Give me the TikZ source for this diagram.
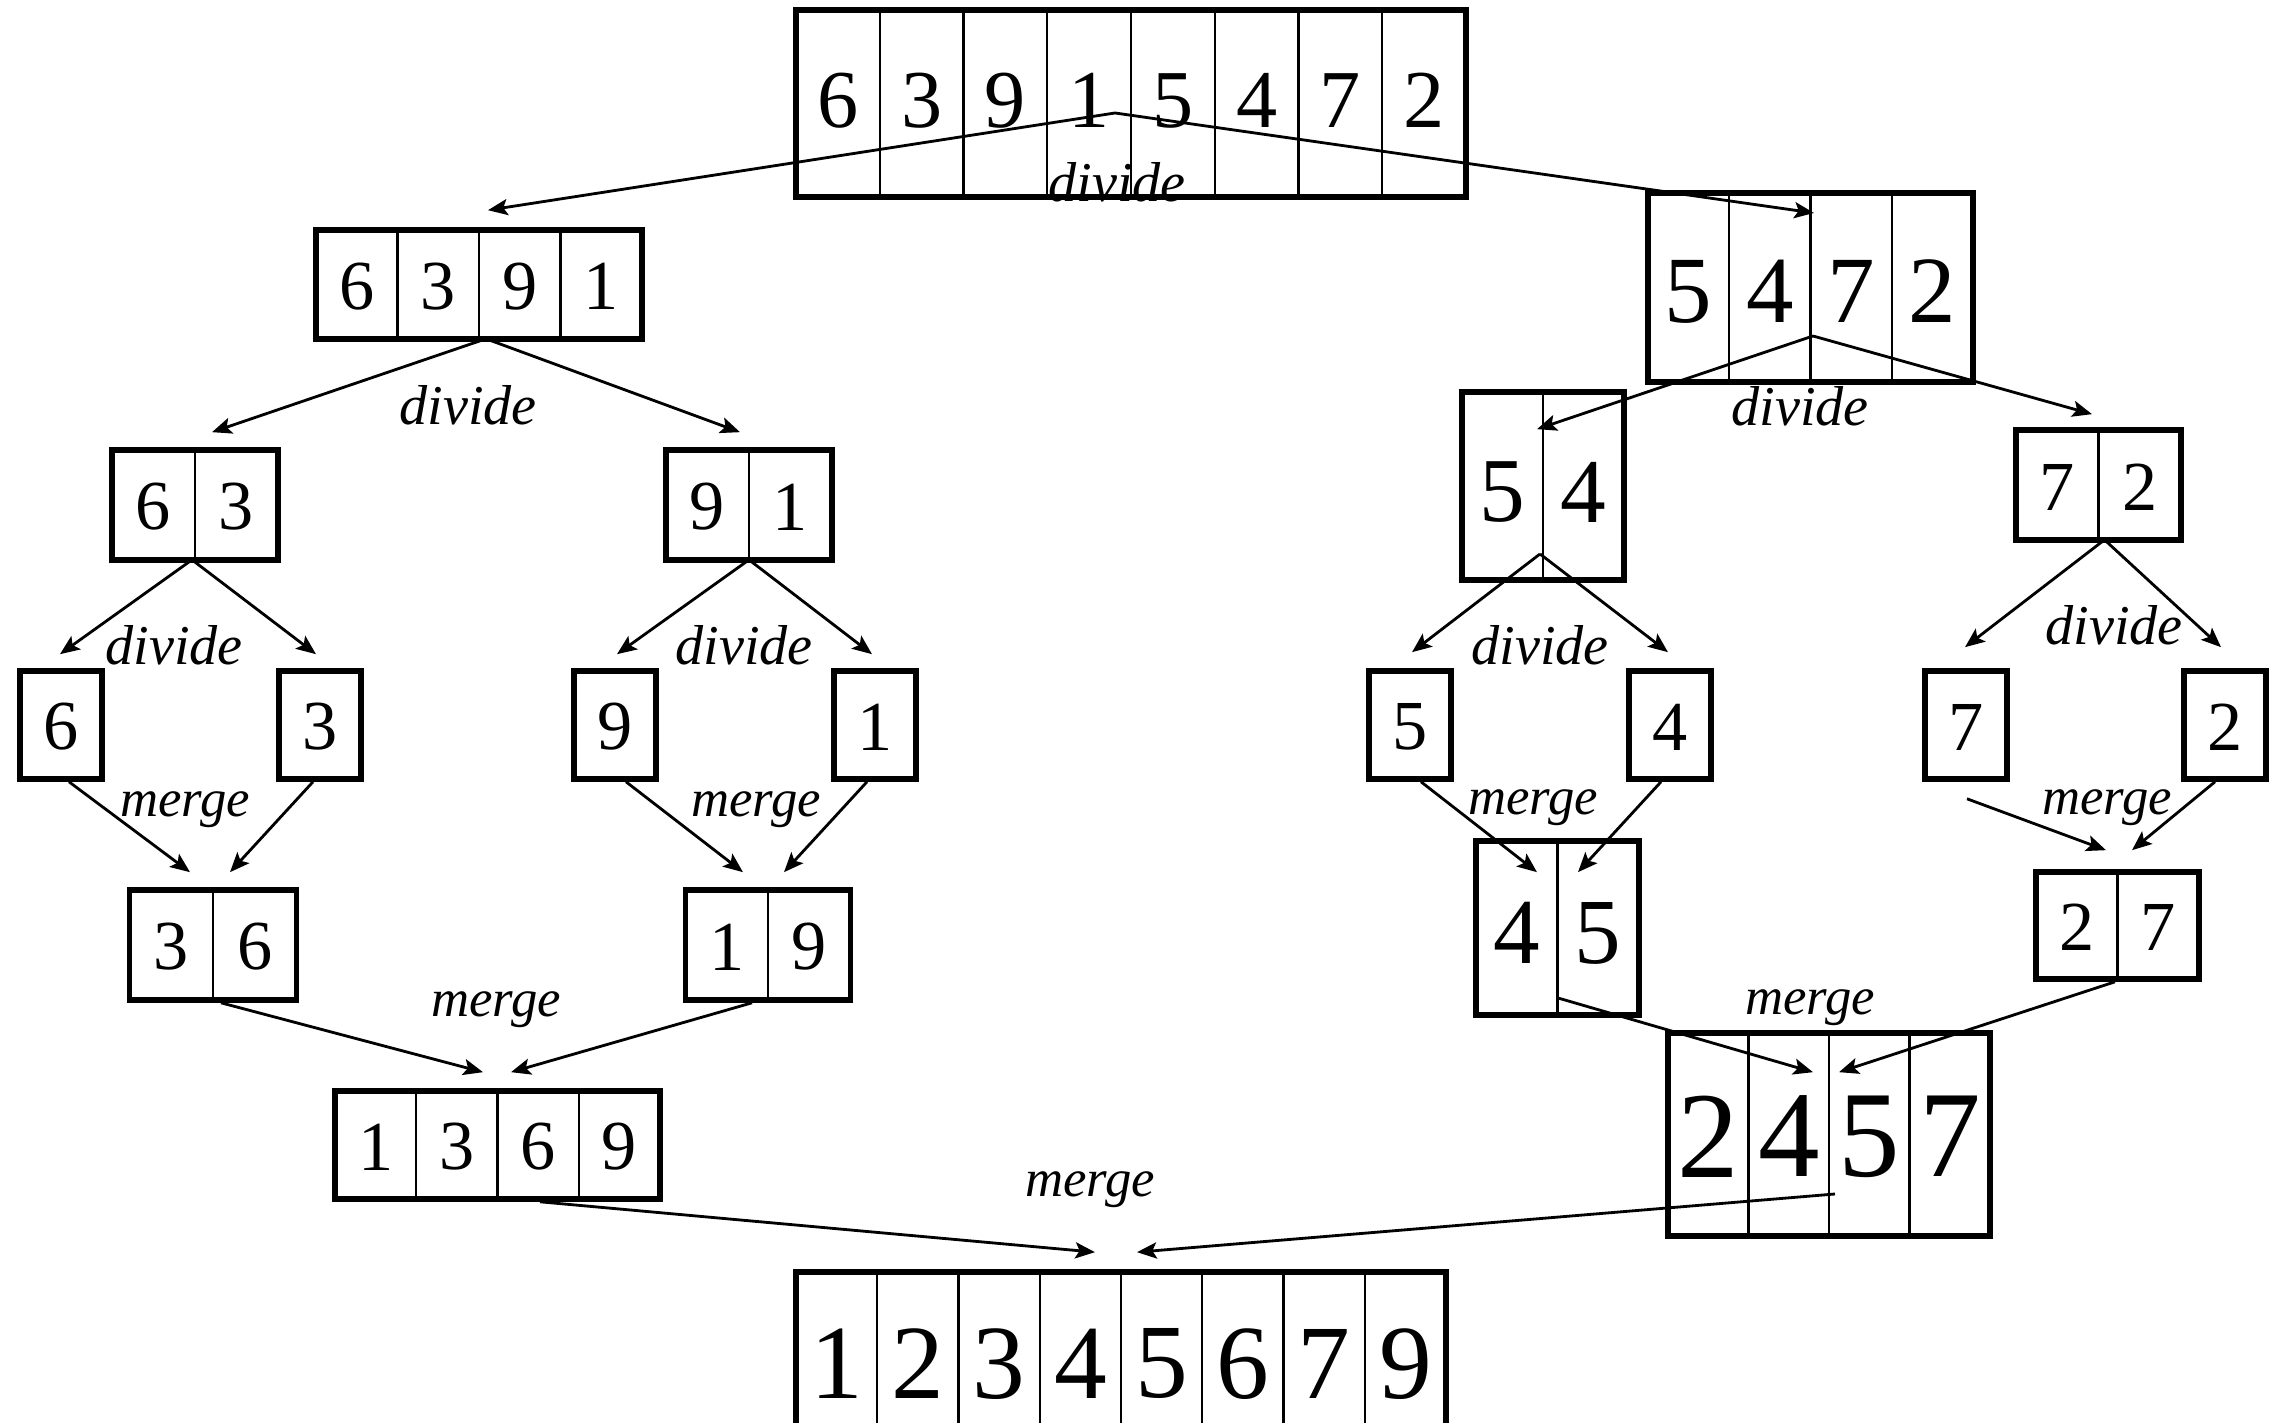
\documentclass[tikz,border=0pt]{standalone}
\usepackage{fontspec}
\setmainfont{Liberation Serif}
\usetikzlibrary{arrows.meta, calc}

% one array of cells: name, centre x, centre y, cells, cell width, height, font size, digit shift, digits
\newcommand{\cellrow}[9]{%
  \node[arrbox, minimum width={#4*#5*0.1mm}, minimum height={#6*0.1mm}] (#1) at (#2,#3) {};
  \foreach \d [count=\i] in {#9}{
    \node[digit, font=\fontsize{#7}{#7}\selectfont] (#1-\i) at ($(#1.center)+({(\i-(#4+1)/2)*#5},#8)$) {\d};
    \ifnum\i<#4 \draw[cellline] ($(#1.center)+({(\i-#4/2)*#5},{-#6/2})$) -- ++(0,#6); \fi
  }
}

\begin{document}
\begin{tikzpicture}[
    x=0.1mm, y=-0.1mm,
    arrbox/.style={draw, line width=1.6pt, inner sep=0pt},
    cellline/.style={line width=0.6pt},
    digit/.style={inner sep=0pt},
    dv/.style={inner sep=0pt, font=\fontsize{16}{16}\selectfont\itshape},
    mg/.style={inner sep=0pt, font=\fontsize{15}{15}\selectfont\itshape},
    arrow/.style={-{Stealth[length=5.6pt,width=4.6pt,inset=1.2pt]}, line width=0.8pt}
]
    \useasboundingbox (0,0) rectangle (2274,1423);
    \clip (0,0) rectangle (2274,1423);
    \fill[white] (0,0) rectangle (2274,1423);

    % Arrays
    \cellrow{top}{1131}{103.5}{8}{83.75}{187}{23.4}{-3}{6,3,9,1,5,4,7,2}
    \cellrow{left}{479}{284.5}{4}{81.5}{109}{20}{2}{6,3,9,1}
    \cellrow{right}{1810.5}{287.5}{4}{81.25}{189}{27}{4}{5,4,7,2}
    \cellrow{ll}{195}{505}{2}{83}{110}{20}{2}{6,3}
    \cellrow{lr}{749}{505}{2}{83}{110}{20}{2}{9,1}
    \cellrow{rl}{1543}{486}{2}{81}{188}{26}{6}{5,4}
    \cellrow{rr}{2098.5}{485}{2}{82.5}{110}{20}{2}{7,2}
    \cellrow{s6}{61}{725}{1}{82}{108}{20}{2}{6}
    \cellrow{s3}{320}{725}{1}{82}{108}{20}{2}{3}
    \cellrow{s9}{615}{725}{1}{82}{108}{20}{2}{9}
    \cellrow{s1}{875}{725}{1}{82}{108}{20}{2}{1}
    \cellrow{s5}{1410}{725}{1}{82}{108}{20}{2}{5}
    \cellrow{s4}{1670}{725}{1}{82}{108}{20}{2}{4}
    \cellrow{s7}{1966}{725}{1}{82}{108}{20}{2}{7}
    \cellrow{s2}{2225}{725}{1}{82}{108}{20}{2}{2}
    \cellrow{m36}{213}{945}{2}{83.5}{110}{20}{2}{3,6}
    \cellrow{m19}{768}{945}{2}{82.5}{110}{20}{2}{1,9}
    \cellrow{m45}{1557.5}{928}{2}{81.5}{174}{26.5}{5}{4,5}
    \cellrow{m27}{2117.5}{925.5}{2}{81.5}{107}{20}{2}{2,7}
    \cellrow{m1369}{497.5}{1145}{4}{81.25}{108}{20}{2}{1,3,6,9}
    \cellrow{m2457}{1829}{1134.5}{4}{80.5}{203}{35}{2}{2,4,5,7}
    \cellrow{sorted}{1121}{1380}{8}{81.25}{216}{30}{-16}{1,2,3,4,5,6,7,9}

    % Divide arrows
    \draw[arrow] ($(top.center)+(-16,9.5)$) -- ($(left.north)+(9,-17)$);
    \draw[arrow] ($(top.center)+(-16,9.5)$) -- ($(right.center)+(3.5,-74.5)$);
    \draw[arrow] ($(left.south)+(7,-3)$) -- ($(ll.north)+(17,-15)$);
    \draw[arrow] ($(left.south)+(7,-3)$) -- ($(lr.north)+(-9,-15)$);
    \draw[arrow] ($(right.center)+(2.5,48.5)$) -- ($(rl.north)+(-6,40)$);
    \draw[arrow] ($(right.center)+(2.5,48.5)$) -- ($(rr.north)+(-6.5,-13)$);
    \draw[arrow] ($(ll.south)+(-3,-3)$) -- ($(s6.north)+(-1,-14)$);
    \draw[arrow] ($(ll.south)+(-3,-3)$) -- ($(s3.north)+(-4,-14)$);
    \draw[arrow] ($(lr.south)+(0,-3)$) -- ($(s9.north)+(2,-14)$);
    \draw[arrow] ($(lr.south)+(0,-3)$) -- ($(s1.north)+(-3,-14)$);
    \draw[arrow] ($(rl.center)+(-3,68)$) -- ($(s5.north)+(2,-16)$);
    \draw[arrow] ($(rl.center)+(-3,68)$) -- ($(s4.north)+(-2,-16)$);
    \draw[arrow] ($(rr.south)+(6,-3)$) -- ($(s7.north)+(-1,-21)$);
    \draw[arrow] ($(rr.south)+(6,-3)$) -- ($(s2.north)+(-4,-21)$);

    % Merge arrows
    \draw[arrow] ($(s6.south)+(8,0)$) -- ($(m36.north)+(-23,-15)$);
    \draw[arrow] ($(s3.south)+(-7,0)$) -- ($(m36.north)+(17,-15)$);
    \draw[arrow] ($(s9.south)+(11,0)$) -- ($(m19.north)+(-25,-15)$);
    \draw[arrow] ($(s1.south)+(-8,0)$) -- ($(m19.north)+(16,-15)$);
    \draw[arrow] ($(s5.south)+(11,0)$) -- ($(m45.north)+(-20.5,34)$);
    \draw[arrow] ($(s4.south)+(-9,0)$) -- ($(m45.north)+(20.5,34)$);
    \draw[arrow] ($(s7.south)+(1,17)$) -- ($(m27.north)+(-11.5,-19)$);
    \draw[arrow] ($(s2.south)+(-10,0)$) -- ($(m27.north)+(14.5,-19)$);
    \draw[arrow] ($(m36.south)+(8,0)$) -- ($(m1369.north)+(-14.5,-16)$);
    \draw[arrow] ($(m19.south)+(-16,0)$) -- ($(m1369.north)+(13.5,-16)$);
    \draw[arrow] ($(m45.center)+(0.5,70)$) -- ($(m2457.north)+(-16,42)$);
    \draw[arrow] ($(m27.south)+(-2.5,0)$) -- ($(m2457.north)+(10,42)$);
    \draw[arrow] ($(m1369.south)+(42.5,0)$) -- ($(sorted.north)+(-26,-17)$);
    \draw[arrow] ($(m2457.center)+(6,59.5)$) -- ($(sorted.north)+(16,-17)$);

    % Labels
    \node[dv] (dv1) at (1117,182) {divide};
    \node[dv] (dv2) at (468,405) {divide};
    \node[dv] (dv3) at (174,645) {divide};
    \node[dv] (dv4) at (744,645) {divide};
    \node[dv] (dv5) at (1800,406) {divide};
    \node[dv] (dv6) at (1540,645) {divide};
    \node[dv] (dv7) at (2114,625) {divide};
    \node[mg] (mg1) at (185,810) {merge};
    \node[mg] (mg2) at (756,810) {merge};
    \node[mg] (mg3) at (1533,808) {merge};
    \node[mg] (mg4) at (2107,808) {merge};
    \node[mg] (mg5) at (496,1010) {merge};
    \node[mg] (mg6) at (1810,1008) {merge};
    \node[mg] (mg7) at (1090,1190) {merge};
\end{tikzpicture}
\end{document}
